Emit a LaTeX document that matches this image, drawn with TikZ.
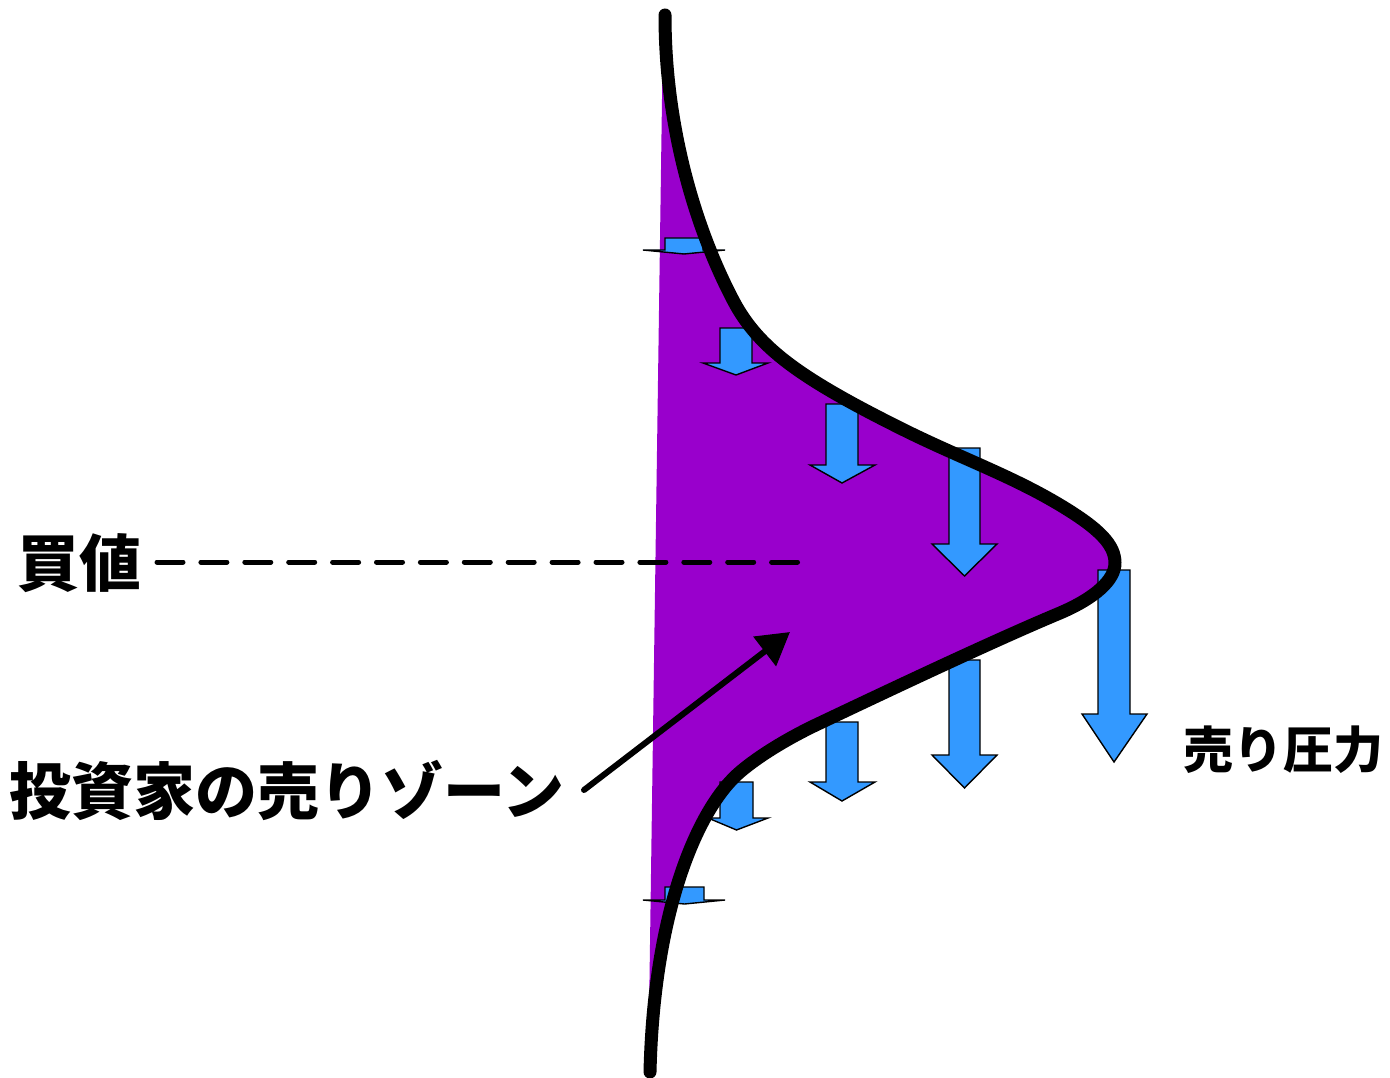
\documentclass[tikz,border=0pt]{standalone}
\usepackage{fontspec}
\newfontfamily\jp{Noto Sans CJK JP}
\usetikzlibrary{arrows.meta}
\definecolor{zonepurple}{HTML}{9900CC}
\definecolor{arrowblue}{HTML}{3399FF}
\newcommand\sellarrow[7]{%
  \filldraw[blockarrow] (#1,#3) -- (#2,#3) -- (#2,#4) -- (#6,#4) -- ({(#1+#2)/2},#7) -- (#5,#4) -- (#1,#4) -- cycle;}
\newcommand\bellcurve{(665,15) .. controls (665,135) and (699.4,236) .. (733,300)
  .. controls (758,348) and (800,378) .. (900,428)
  .. controls (960,458) and (1010,475) .. (1060,505)
  .. controls (1100,529) and (1115,545) .. (1115,563)
  .. controls (1115,580) and (1095,598) .. (1060,613)
  .. controls (1000,638) and (900,685) .. (820,723)
  .. controls (790,737) and (760,755) .. (740,772)
  .. controls (700,806) and (654,905) .. (650,1072)}
\begin{document}
\begin{tikzpicture}[x=1pt,y=-1pt,
  blockarrow/.style={fill=arrowblue,draw=black,line width=1.4pt,line join=miter},
  curveline/.style={line width=13pt,line cap=round,line join=round},
  jplabel/.style={font=\jp\bfseries\fontsize{62}{62}\selectfont,inner sep=0pt,anchor=center},
  smalllabel/.style={font=\jp\bfseries\fontsize{50}{50}\selectfont,inner sep=0pt,anchor=center}]
\useasboundingbox (0,0) rectangle (1390,1078);
% purple zone
\begin{scope}
  \clip (663.4,0) -- (648.1,1078) -- (1390,1078) -- (1390,0) -- cycle;
  \fill[zonepurple] \bellcurve -- (600,1072) -- (600,15) -- cycle;
\end{scope}
% buy price and dashed line
\node[jplabel] (buy) at (79,563) {買値};
\coordinate (dashstart) at (157,562);
\coordinate (dashend) at (797.5,562);
\draw[line width=5pt,line cap=round,dash pattern=on 26pt off 17.9pt] (dashstart) -- (dashend);
% selling pressure arrows
\sellarrow{665}{703}{238}{250}{643}{725}{254}
\sellarrow{720}{752}{328}{363}{703}{768}{375}
\sellarrow{826}{858}{404}{465}{810}{875}{483}
\sellarrow{949}{980}{448}{544}{932}{997}{576}
\sellarrow{1098}{1130}{570}{714}{1082}{1147}{762}
\sellarrow{949}{980}{660}{755}{932}{997}{788}
\sellarrow{826}{858}{722}{782}{810}{875}{801}
\sellarrow{720}{753}{782}{818}{708}{768}{830}
\sellarrow{665}{704}{887}{900}{643}{725}{904}
% curve
\draw[curveline] \bellcurve;
% labels
\node[jplabel] (zone) at (287,790) {投資家の売りゾーン};
\node[smalllabel] (press) at (1283,750) {売り圧力};
\coordinate (zonetip) at (790,632);
\coordinate (zonetail) at (584,790);
\draw[line width=6pt,line cap=round,-{Triangle[length=32pt,width=36pt]}] (zonetail) -- (zonetip);
\end{tikzpicture}
\end{document}
